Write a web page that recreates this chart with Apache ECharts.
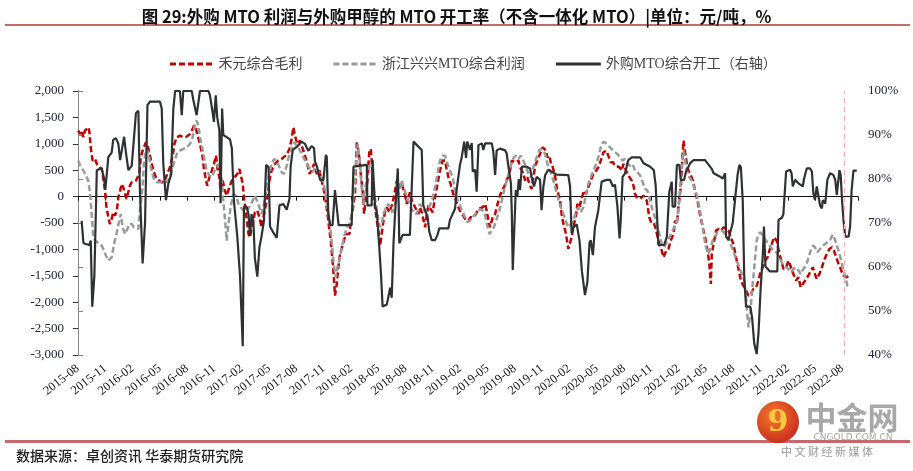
<!DOCTYPE html>
<html><head><meta charset="utf-8">
<script src="https://cdn.jsdelivr.net/npm/echarts@6/dist/echarts.min.js"></script>
<style>html,body{margin:0;padding:0;background:#fff}#c{width:913px;height:471px}</style>
</head><body><div id="c"></div>
<script>
// ---- data ----
const titleText = '图 29:外购 MTO 利润与外购甲醇的 MTO 开工率（不含一体化 MTO）|单位：元/吨，%';
const seriesNames = ['禾元综合毛利', '浙江兴兴MTO综合利润', '外购MTO综合开工（右轴）'];
const xTickLabels = ['2015-08','2015-11','2016-02','2016-05','2016-08','2016-11','2017-02','2017-05','2017-08','2017-11','2018-02','2018-05','2018-08','2018-11','2019-02','2019-05','2019-08','2019-11','2020-02','2020-05','2020-08','2020-11','2021-02','2021-05','2021-08','2021-11','2022-02','2022-05','2022-08'];
const markDate = '2022-08-07';

// 禾元综合毛利 (元/吨)
const heyuan = [
['2015-08-02',1250],['2015-08-08',1187],['2015-08-13',1250],['2015-08-19',1124],['2015-08-24',1250],['2015-08-30',1282],['2015-09-05',1313],['2015-09-08',1250],['2015-09-13',934],['2015-09-19',682],['2015-09-27',713],['2015-10-03',619],['2015-10-11',556],['2015-10-19',524],['2015-10-24',366],['2015-10-30',114],['2015-11-05',-202],['2015-11-11',-391],['2015-11-16',-518],['2015-11-22',-423],['2015-11-27',-297],['2015-12-03',-360],['2015-12-09',-265],['2015-12-14',-13],['2015-12-20',114],['2015-12-25',240],['2015-12-30',177],['2016-01-06',50],['2016-01-11',-44],['2016-01-22',208],['2016-01-28',271],['2016-02-12',303],['2016-02-23',429],['2016-02-28',745],['2016-03-04',871],['2016-03-15',1029],['2016-03-20',966],['2016-03-26',840],['2016-04-04',619],['2016-04-11',461],['2016-04-20',335],['2016-05-07',271],['2016-05-14',271],['2016-05-21',366],['2016-06-04',556],['2016-06-13',776],['2016-06-19',997],['2016-06-26',1124],['2016-07-07',1155],['2016-07-18',1124],['2016-07-29',1136],['2016-08-10',1187],['2016-08-19',1282],['2016-08-23',1345],['2016-08-30',1282],['2016-09-04',1187],['2016-09-13',997],['2016-09-22',745],['2016-09-26',524],['2016-10-03',303],['2016-10-07',208],['2016-10-14',366],['2016-10-22',492],['2016-10-29',619],['2016-11-06',776],['2016-11-10',556],['2016-11-17',366],['2016-11-21',114],['2016-11-28',303],['2016-12-05',114],['2016-12-11',19],['2016-12-20',177],['2016-12-28',303],['2017-01-03',271],['2017-01-16',429],['2017-01-23',524],['2017-01-27',524],['2017-02-04',240],['2017-02-08',-13],['2017-02-15',-328],['2017-02-23',-707],['2017-02-28',-770],['2017-03-03',-581],['2017-03-09',-455],['2017-03-14',-297],['2017-03-22',-265],['2017-03-29',-391],['2017-04-06',-581],['2017-04-14',-328],['2017-04-23',-76],['2017-05-02',303],['2017-05-09',492],['2017-05-20',619],['2017-06-01',682],['2017-06-12',713],['2017-06-29',795],['2017-07-08',903],['2017-07-15',1092],['2017-07-21',1313],['2017-07-26',1155],['2017-08-04',997],['2017-08-13',1061],['2017-08-22',903],['2017-08-29',776],['2017-09-07',619],['2017-09-14',429],['2017-09-21',492],['2017-09-29',619],['2017-10-08',429],['2017-10-17',492],['2017-10-24',303],['2017-11-02',114],['2017-11-09',-139],['2017-11-16',-455],['2017-11-24',-833],['2017-11-30',-1212],['2017-12-05',-1591],['2017-12-08',-1875],['2017-12-14',-1654],['2017-12-19',-1338],['2017-12-25',-1086],['2018-01-03',-928],['2018-01-14',-707],['2018-01-26',-707],['2018-01-30',-455],['2018-02-06',-265],['2018-02-14',50],['2018-02-20',1029],['2018-02-28',745],['2018-03-03',429],['2018-03-09',114],['2018-03-14',-328],['2018-03-20',-13],['2018-03-25',303],['2018-04-01',840],['2018-04-06',903],['2018-04-09',682],['2018-04-14',114],['2018-04-20',-202],['2018-04-26',-455],['2018-05-01',-644],['2018-05-07',-928],['2018-05-12',-707],['2018-05-18',-455],['2018-05-23',-297],['2018-05-29',-202],['2018-06-07',-297],['2018-06-15',-170],['2018-06-21',-44],['2018-06-26',114],['2018-07-02',303],['2018-07-10',177],['2018-07-18',271],['2018-07-24',114],['2018-07-29',19],['2018-08-05',-139],['2018-08-10',-13],['2018-08-15',82],['2018-08-21',-76],['2018-08-27',-139],['2018-09-05',-234],['2018-09-13',-328],['2018-09-18',-202],['2018-09-24',-297],['2018-09-29',-423],['2018-10-05',-581],['2018-10-11',-328],['2018-10-16',-170],['2018-10-21',-139],['2018-10-30',-297],['2018-11-08',-13],['2018-11-16',240],['2018-11-24',492],['2018-12-03',682],['2018-12-11',682],['2018-12-16',524],['2018-12-22',366],['2018-12-29',240],['2019-01-08',50],['2019-01-17',-76],['2019-01-25',-202],['2019-02-02',-297],['2019-02-11',-360],['2019-02-20',-455],['2019-02-28',-455],['2019-03-05',-391],['2019-03-14',-391],['2019-03-23',-328],['2019-03-31',-234],['2019-04-06',-265],['2019-04-15',-202],['2019-04-23',-139],['2019-04-28',-265],['2019-05-04',-455],['2019-05-09',-581],['2019-05-18',-391],['2019-05-26',-328],['2019-06-01',-202],['2019-06-10',-13],['2019-06-18',114],['2019-06-25',177],['2019-07-04',303],['2019-07-10',398],['2019-07-15',492],['2019-07-21',682],['2019-07-26',682],['2019-08-05',650],['2019-08-13',682],['2019-08-18',556],['2019-08-27',461],['2019-09-05',303],['2019-09-12',366],['2019-09-19',240],['2019-09-26',145],['2019-10-02',366],['2019-10-08',587],['2019-10-15',682],['2019-10-26',840],['2019-11-03',934],['2019-11-07',966],['2019-11-14',871],['2019-11-18',745],['2019-11-25',776],['2019-11-29',650],['2019-12-06',556],['2019-12-14',366],['2019-12-21',114],['2019-12-30',-76],['2020-01-05',-328],['2020-01-11',-518],['2020-01-17',-644],['2020-01-22',-802],['2020-01-27',-991],['2020-02-03',-960],['2020-02-08',-770],['2020-02-14',-581],['2020-02-23',-328],['2020-02-27',-139],['2020-03-04',-202],['2020-03-12',-13],['2020-03-19',114],['2020-03-26',50],['2020-04-03',177],['2020-04-11',303],['2020-04-20',429],['2020-04-29',492],['2020-05-06',556],['2020-05-14',682],['2020-05-23',840],['2020-06-02',871],['2020-06-09',776],['2020-06-17',650],['2020-06-24',650],['2020-07-01',587],['2020-07-07',619],['2020-07-16',556],['2020-07-23',492],['2020-07-29',619],['2020-08-04',587],['2020-08-10',461],['2020-08-19',366],['2020-08-26',303],['2020-09-02',208],['2020-09-07',50],['2020-09-13',-13],['2020-09-24',-44],['2020-10-05',19],['2020-10-16',-80],['2020-10-24',-391],['2020-11-02',-518],['2020-11-10',-518],['2020-11-17',-644],['2020-11-24',-833],['2020-12-02',-960],['2020-12-11',-1149],['2020-12-20',-1023],['2020-12-27',-991],['2021-01-05',-833],['2021-01-14',-707],['2021-01-19',-455],['2021-01-25',-518],['2021-01-30',-202],['2021-02-08',177],['2021-02-14',808],['2021-02-17',1061],['2021-02-22',840],['2021-02-28',619],['2021-03-03',492],['2021-03-09',429],['2021-03-18',303],['2021-03-25',114],['2021-04-03',-76],['2021-04-11',-328],['2021-04-20',-581],['2021-04-28',-770],['2021-05-06',-1023],['2021-05-12',-1275],['2021-05-17',-1654],['2021-05-20',-1086],['2021-05-26',-896],['2021-06-04',-644],['2021-06-12',-612],['2021-06-20',-644],['2021-06-29',-581],['2021-07-07',-612],['2021-07-15',-644],['2021-07-23',-770],['2021-08-01',-896],['2021-08-10',-1149],['2021-08-18',-1370],['2021-08-26',-1591],['2021-09-04',-1686],['2021-09-13',-1780],['2021-09-21',-1875],['2021-09-29',-1843],['2021-10-07',-1749],['2021-10-16',-1717],['2021-10-24',-1591],['2021-10-29',-1465],['2021-11-08',-1338],['2021-11-16',-1212],['2021-11-24',-1149],['2021-11-30',-1023],['2021-12-08',-896],['2021-12-15',-770],['2021-12-24',-833],['2022-01-03',-1086],['2022-01-11',-1244],['2022-01-16',-1370],['2022-01-25',-1338],['2022-02-03',-1212],['2022-02-11',-1338],['2022-02-19',-1465],['2022-02-28',-1591],['2022-03-06',-1528],['2022-03-13',-1717],['2022-03-20',-1654],['2022-03-28',-1591],['2022-04-05',-1528],['2022-04-14',-1433],['2022-04-23',-1338],['2022-04-30',-1465],['2022-05-06',-1559],['2022-05-15',-1465],['2022-05-23',-1338],['2022-05-30',-1212],['2022-06-09',-1086],['2022-06-18',-991],['2022-06-26',-960],['2022-07-03',-1023],['2022-07-10',-1149],['2022-07-18',-1275],['2022-07-23',-1338],['2022-07-29',-1433],['2022-08-04',-1496],['2022-08-10',-1465],['2022-08-15',-1528],['2022-08-21',-1496]
];

// 浙江兴兴MTO综合利润 (元/吨)
const xingxing = [
['2015-08-02',682],['2015-08-08',587],['2015-08-19',492],['2015-08-27',398],['2015-09-05',303],['2015-09-11',50],['2015-09-16',-328],['2015-09-21',-707],['2015-09-27',-833],['2015-10-05',-865],['2015-10-11',-896],['2015-10-19',-928],['2015-10-27',-1023],['2015-11-03',-1117],['2015-11-11',-1212],['2015-11-16',-1212],['2015-11-22',-1149],['2015-11-30',-896],['2015-12-09',-675],['2015-12-17',-455],['2015-12-22',-328],['2015-12-28',-581],['2016-01-06',-707],['2016-01-14',-612],['2016-01-20',-518],['2016-01-28',-518],['2016-02-05',-581],['2016-02-20',-612],['2016-02-25',-265],['2016-03-04',177],['2016-03-08',619],['2016-03-15',903],['2016-03-23',840],['2016-03-31',556],['2016-04-09',366],['2016-04-20',271],['2016-05-21',271],['2016-05-29',303],['2016-06-06',429],['2016-06-15',587],['2016-06-21',713],['2016-06-29',840],['2016-07-07',871],['2016-07-18',903],['2016-07-29',934],['2016-08-10',997],['2016-08-19',1124],['2016-08-27',1376],['2016-09-02',1439],['2016-09-08',1345],['2016-09-13',1124],['2016-09-22',871],['2016-09-30',650],['2016-10-05',492],['2016-10-14',398],['2016-10-22',366],['2016-10-29',461],['2016-11-08',556],['2016-11-17',619],['2016-11-25',303],['2016-11-30',-76],['2016-12-06',-455],['2016-12-11',-833],['2016-12-17',-518],['2016-12-24',-202],['2017-01-03',50],['2017-01-12',19],['2017-01-20',-139],['2017-01-27',-202],['2017-02-11',-297],['2017-02-19',-265],['2017-02-28',-170],['2017-03-07',-76],['2017-03-14',19],['2017-03-20',-13],['2017-03-29',-202],['2017-04-06',-328],['2017-04-14',-139],['2017-04-23',177],['2017-05-02',429],['2017-05-09',619],['2017-05-17',713],['2017-05-26',682],['2017-06-05',556],['2017-06-12',461],['2017-06-20',429],['2017-06-29',587],['2017-07-08',808],['2017-07-15',903],['2017-07-23',1029],['2017-08-02',966],['2017-08-13',871],['2017-08-24',745],['2017-09-05',619],['2017-09-16',524],['2017-09-25',461],['2017-10-02',556],['2017-10-10',492],['2017-10-19',429],['2017-10-28',303],['2017-11-05',114],['2017-11-11',-139],['2017-11-20',-455],['2017-11-27',-833],['2017-12-05',-1338],['2017-12-11',-1528],['2017-12-16',-1338],['2017-12-23',-1212],['2017-12-30',-960],['2018-01-08',-770],['2018-01-17',-581],['2018-01-26',-518],['2018-02-03',-328],['2018-02-11',114],['2018-02-17',556],['2018-02-23',1000],['2018-03-01',619],['2018-03-06',177],['2018-03-12',-139],['2018-03-17',114],['2018-03-23',366],['2018-04-01',587],['2018-04-09',492],['2018-04-14',177],['2018-04-23',-139],['2018-05-01',-455],['2018-05-07',-581],['2018-05-12',-518],['2018-05-18',-328],['2018-05-27',-202],['2018-06-04',-139],['2018-06-12',-234],['2018-06-18',-297],['2018-06-26',-139],['2018-07-04',19],['2018-07-12',177],['2018-07-18',303],['2018-07-24',177],['2018-08-02',50],['2018-08-10',-76],['2018-08-18',-202],['2018-08-27',-297],['2018-09-05',-328],['2018-09-13',-265],['2018-09-18',-139],['2018-09-27',-202],['2018-10-05',-297],['2018-10-13',-234],['2018-10-21',-170],['2018-10-30',-13],['2018-11-08',177],['2018-11-16',429],['2018-11-24',682],['2018-12-03',776],['2018-12-11',776],['2018-12-19',619],['2018-12-27',492],['2019-01-06',366],['2019-01-14',114],['2019-01-21',-44],['2019-01-30',-170],['2019-02-09',-297],['2019-02-17',-391],['2019-02-24',-486],['2019-03-03',-455],['2019-03-12',-391],['2019-03-20',-328],['2019-03-27',-297],['2019-04-06',-234],['2019-04-15',-265],['2019-04-23',-360],['2019-04-30',-549],['2019-05-07',-707],['2019-05-15',-644],['2019-05-22',-581],['2019-06-01',-423],['2019-06-10',-265],['2019-06-18',-76],['2019-06-25',114],['2019-07-04',303],['2019-07-13',492],['2019-07-21',650],['2019-07-28',745],['2019-08-05',776],['2019-08-13',713],['2019-08-20',776],['2019-08-29',682],['2019-09-08',556],['2019-09-16',429],['2019-09-23',366],['2019-10-02',556],['2019-10-11',713],['2019-10-19',840],['2019-10-24',903],['2019-11-03',871],['2019-11-11',808],['2019-11-18',619],['2019-11-27',492],['2019-12-08',303],['2019-12-17',114],['2019-12-24',-44],['2020-01-02',-202],['2020-01-11',-328],['2020-01-20',-486],['2020-01-27',-581],['2020-02-05',-518],['2020-02-14',-455],['2020-02-23',-265],['2020-03-01',-202],['2020-03-08',-297],['2020-03-17',-202],['2020-03-26',50],['2020-04-03',240],['2020-04-11',366],['2020-04-20',492],['2020-04-29',619],['2020-05-06',745],['2020-05-14',934],['2020-05-21',1029],['2020-05-28',1029],['2020-06-06',966],['2020-06-15',934],['2020-06-24',871],['2020-07-01',840],['2020-07-09',808],['2020-07-18',745],['2020-07-26',682],['2020-08-04',713],['2020-08-12',619],['2020-08-21',587],['2020-08-29',619],['2020-09-07',492],['2020-09-15',461],['2020-09-24',400],['2020-10-02',280],['2020-10-10',150],['2020-10-18',114],['2020-10-27',-76],['2020-11-05',-265],['2020-11-13',-391],['2020-11-21',-581],['2020-11-30',-770],['2020-12-05',-896],['2020-12-13',-960],['2020-12-22',-865],['2020-12-30',-770],['2021-01-08',-675],['2021-01-16',-581],['2021-01-25',-455],['2021-01-30',-265],['2021-02-05',114],['2021-02-11',556],['2021-02-17',871],['2021-02-22',682],['2021-02-28',492],['2021-03-06',366],['2021-03-14',303],['2021-03-22',177],['2021-03-31',19],['2021-04-09',-202],['2021-04-17',-455],['2021-04-25',-770],['2021-05-01',-960],['2021-05-09',-1086],['2021-05-17',-960],['2021-05-23',-833],['2021-06-01',-770],['2021-06-09',-675],['2021-06-23',-644],['2021-06-30',-675],['2021-07-09',-770],['2021-07-18',-802],['2021-07-26',-960],['2021-08-04',-1086],['2021-08-12',-1212],['2021-08-21',-1338],['2021-08-29',-1465],['2021-09-07',-1591],['2021-09-13',-1907],['2021-09-17',-2222],['2021-09-21',-2475],['2021-09-27',-2222],['2021-10-02',-1843],['2021-10-07',-1528],['2021-10-13',-1149],['2021-10-18',-833],['2021-10-24',-707],['2021-11-01',-675],['2021-11-10',-770],['2021-11-19',-833],['2021-11-27',-896],['2021-12-05',-960],['2021-12-13',-1023],['2021-12-22',-1054],['2021-12-30',-1117],['2022-01-08',-1212],['2022-01-16',-1307],['2022-01-25',-1338],['2022-02-03',-1370],['2022-02-11',-1433],['2022-02-19',-1370],['2022-02-28',-1338],['2022-03-06',-1401],['2022-03-13',-1465],['2022-03-22',-1370],['2022-04-01',-1307],['2022-04-09',-1149],['2022-04-16',-1023],['2022-04-23',-928],['2022-04-30',-960],['2022-05-08',-1054],['2022-05-17',-991],['2022-05-26',-928],['2022-06-04',-896],['2022-06-11',-865],['2022-06-20',-820],['2022-06-29',-720],['2022-07-07',-833],['2022-07-14',-960],['2022-07-21',-1086],['2022-07-29',-1275],['2022-08-06',-1433],['2022-08-13',-1591],['2022-08-17',-1686],['2022-08-22',-1717]
];

// 外购MTO综合开工（右轴, %）
const operating = [
['2015-08-13',70.5],['2015-08-19',65.4],['2015-09-08',65],['2015-09-13',66],['2015-09-18',51],['2015-09-25',58],['2015-10-03',82],['2015-10-19',82.5],['2015-10-27',80],['2015-11-01',77.5],['2015-11-11',85],['2015-11-22',86],['2015-11-27',88.9],['2015-12-06',89.3],['2015-12-14',88],['2015-12-20',84.3],['2015-12-25',84],['2016-01-03',89.6],['2016-01-09',86],['2016-01-17',82],['2016-01-28',83],['2016-02-05',88.9],['2016-02-12',95],['2016-02-20',95.5],['2016-02-25',77.5],['2016-03-04',60.8],['2016-03-12',70],['2016-03-20',96.8],['2016-03-28',97.6],['2016-05-01',97.6],['2016-05-07',96],['2016-05-12',83.6],['2016-05-21',75.2],['2016-05-29',79],['2016-06-08',81],['2016-06-15',95.7],['2016-06-21',100],['2016-07-07',100],['2016-07-13',94.5],['2016-07-18',100],['2016-08-16',100],['2016-08-21',98],['2016-09-02',94.5],['2016-09-13',100],['2016-10-11',100],['2016-10-16',99],['2016-10-25',95],['2016-10-29',93],['2016-11-05',99],['2016-11-10',94],['2016-11-17',91],['2016-11-21',74.5],['2016-11-26',96],['2016-11-30',90],['2016-12-11',89.5],['2016-12-22',89],['2016-12-28',87],['2017-01-05',75],['2017-01-16',67],['2017-01-25',58],['2017-02-04',42],['2017-02-08',73.7],['2017-02-17',73.7],['2017-02-23',72],['2017-02-28',67],['2017-03-03',72],['2017-03-09',70.5],['2017-03-14',62],['2017-03-22',57.8],['2017-03-29',64.5],['2017-04-06',67],['2017-04-14',70.5],['2017-04-21',83.2],['2017-04-29',82.7],['2017-05-04',69.2],['2017-05-15',67.8],['2017-05-26',66.6],['2017-06-05',74],['2017-06-18',74.3],['2017-06-29',73],['2017-07-08',75.5],['2017-07-12',83],['2017-07-19',86.6],['2017-08-04',87.4],['2017-08-18',88.5],['2017-08-29',88],['2017-09-10',86.4],['2017-09-21',87.5],['2017-09-29',87],['2017-10-02',84],['2017-10-08',83],['2017-10-19',79.8],['2017-10-30',79.8],['2017-11-08',85.5],['2017-11-11',85],['2017-11-16',72.2],['2017-11-22',69.5],['2017-11-30',69.5],['2017-12-08',77.5],['2017-12-14',77.5],['2017-12-20',69.5],['2018-02-03',69.5],['2018-02-09',82.8],['2018-03-23',83.2],['2018-03-25',74],['2018-04-09',74],['2018-04-12',84.3],['2018-04-17',84.3],['2018-04-20',74],['2018-04-26',72.5],['2018-05-04',64.6],['2018-05-10',58],['2018-05-15',51],['2018-05-29',51.5],['2018-06-10',55.3],['2018-06-15',53],['2018-06-21',65.5],['2018-06-26',72],['2018-07-05',82.4],['2018-07-08',74],['2018-07-10',65.4],['2018-07-15',65.4],['2018-07-21',67.3],['2018-08-15',67.3],['2018-08-21',78],['2018-08-27',88.5],['2018-09-08',87.7],['2018-09-24',86.6],['2018-09-29',74],['2018-10-05',72.9],['2018-10-13',71.5],['2018-10-19',68],['2018-10-27',66.1],['2018-11-08',66.1],['2018-11-16',67.3],['2018-11-22',68.8],['2018-12-22',68.8],['2018-12-27',70.7],['2019-01-14',73.3],['2019-01-19',77.5],['2019-01-30',83.2],['2019-02-06',85],['2019-02-14',88.5],['2019-02-20',84.8],['2019-02-24',88.5],['2019-03-03',86.6],['2019-03-09',88.2],['2019-03-12',81.7],['2019-03-20',82.1],['2019-03-25',77.1],['2019-04-01',87.7],['2019-04-12',88.1],['2019-04-17',86.6],['2019-04-23',88.1],['2019-05-15',88.1],['2019-05-20',86.2],['2019-05-26',80.9],['2019-06-01',86.5],['2019-06-12',86.9],['2019-06-29',86.5],['2019-07-04',85.8],['2019-07-10',82.7],['2019-07-18',79],['2019-07-21',72],['2019-07-24',59.3],['2019-07-29',59],['2019-08-04',77.5],['2019-08-09',76],['2019-08-14',80],['2019-08-18',77.5],['2019-08-24',82.8],['2019-09-10',82.8],['2019-09-21',82.4],['2019-09-26',80.5],['2019-10-04',78.3],['2019-10-13',80.5],['2019-10-24',79.8],['2019-10-29',72.9],['2019-11-05',78.3],['2019-11-11',80.9],['2019-11-21',82.1],['2019-12-19',81],['2020-01-27',80.9],['2020-02-03',78.3],['2020-02-08',67.6],['2020-02-14',69],['2020-02-25',69.7],['2020-03-04',66],['2020-03-12',59],['2020-03-22',53.6],['2020-03-30',56.6],['2020-04-07',65.5],['2020-04-11',66.1],['2020-04-18',62.7],['2020-04-22',62.7],['2020-04-25',69],['2020-05-06',72.9],['2020-05-17',79.4],['2020-06-04',79.8],['2020-06-15',79.8],['2020-06-24',78.3],['2020-07-01',78.7],['2020-07-09',73.7],['2020-07-16',66.5],['2020-07-20',70.7],['2020-07-26',80.5],['2020-08-04',81.3],['2020-08-15',84.3],['2020-08-26',84.9],['2020-09-24',84.9],['2020-10-05',83.6],['2020-10-27',82.8],['2020-11-02',82.4],['2020-11-09',82],['2020-11-15',78.6],['2020-11-24',65],['2020-12-13',65],['2020-12-22',66.9],['2020-12-30',77.1],['2021-01-08',79.4],['2021-01-11',73.7],['2021-01-19',73.7],['2021-01-25',83.2],['2021-02-03',83.2],['2021-02-08',79.8],['2021-02-19',79.8],['2021-02-25',81.7],['2021-03-09',83.6],['2021-03-20',84.3],['2021-04-28',84.3],['2021-05-03',83.9],['2021-05-20',82.3],['2021-05-26',81.3],['2021-06-18',80.5],['2021-06-26',80.1],['2021-07-04',81.3],['2021-07-07',66.9],['2021-07-15',66.1],['2021-07-20',67.6],['2021-07-29',70],['2021-08-07',75.5],['2021-08-15',80.9],['2021-08-21',83.2],['2021-08-26',82.7],['2021-09-02',75.2],['2021-09-07',57.8],['2021-09-13',51],['2021-09-27',51],['2021-10-03',48.5],['2021-10-10',42.6],['2021-10-18',40.2],['2021-10-24',45],['2021-11-01',55],['2021-11-08',62.4],['2021-11-12',69.2],['2021-11-17',60.1],['2021-12-02',59],['2021-12-26',59],['2021-12-30',70.7],['2022-01-11',71.2],['2022-01-16',72],['2022-01-25',81.7],['2022-02-08',82.1],['2022-02-13',81.3],['2022-02-17',78.3],['2022-02-25',79.8],['2022-03-06',79],['2022-03-20',78.3],['2022-03-24',80],['2022-04-03',82.4],['2022-04-14',82.4],['2022-04-20',81.7],['2022-04-25',76.7],['2022-04-30',75.2],['2022-05-06',78.3],['2022-05-12',77.9],['2022-05-17',74],['2022-05-23',73.3],['2022-05-26',75.2],['2022-06-04',74.4],['2022-06-11',79.8],['2022-06-20',81.3],['2022-07-01',80.9],['2022-07-07',79.8],['2022-07-12',76.4],['2022-07-18',76.8],['2022-07-21',82],['2022-07-25',80.9],['2022-07-29',75.6],['2022-08-04',70.7],['2022-08-10',66.9],['2022-08-21',66.9],['2022-08-26',69.2],['2022-09-01',77.5],['2022-09-07',81.9],['2022-09-18',81.9]
];

// ---- helpers ----
function toM(s) { const p = s.split('-').map(Number); return (p[0] - 2015) * 12 + (p[1] - 8) + (p[2] - 1) / 30; }
const conv = arr => arr.map(d => [toM(d[0]), d[1]]);
const xMax = 85.7;

const chart = echarts.init(document.getElementById('c'), null, { renderer: 'canvas' });
const serif = "'Liberation Serif', 'Times New Roman', 'Noto Sans CJK SC', serif";
const cjk = "'Noto Sans CJK SC', sans-serif";
const dashIcon = 'path://M0,0h6v3h-6z M9,0h6v3h-6z M18,0h6v3h-6z M27,0h6v3h-6z M36,0h6v3h-6z';

chart.setOption({
  animation: false,
  backgroundColor: '#fff',
  title: {
    text: titleText, left: 'center', top: 3,
    textStyle: { fontFamily: cjk, fontSize: 16.5, fontWeight: 'bold', color: '#111' }
  },
  legend: {
    left: 165, top: 52, itemGap: 31, itemWidth: 45, itemHeight: 3,
    data: [
      { name: seriesNames[0], icon: dashIcon },
      { name: seriesNames[1], icon: dashIcon },
      { name: seriesNames[2], icon: 'rect' }
    ],
    textStyle: { fontFamily: serif, fontSize: 14, color: '#444' }
  },
  grid: { left: 78, right: 55, top: 91, bottom: 116, containLabel: false },
  xAxis: [
    {
      type: 'value', min: 0, max: xMax, interval: 3, position: 'bottom',
      axisLine: { show: false, onZero: false }, axisTick: { show: false }, splitLine: { show: false },
      axisLabel: {
        rotate: 38, margin: 12, fontFamily: serif, fontSize: 12.5, color: '#222', showMaxLabel: false,
        formatter: v => { const i = Math.round(v / 3); return (Math.abs(v - i * 3) < 1e-6 && i < xTickLabels.length) ? xTickLabels[i] : ''; }
      }
    },
    {
      type: 'value', min: 0, max: xMax, interval: 3, position: 'top',
      axisLine: { show: true, onZero: true, onZeroAxisIndex: 0, lineStyle: { color: '#111', width: 1 } },
      axisTick: { show: true, inside: true, length: 4, lineStyle: { color: '#111' } },
      axisLabel: { show: false }, splitLine: { show: false }
    }
  ],
  yAxis: [
    {
      type: 'value', min: -3000, max: 2000, interval: 500, position: 'left',
      axisLine: { show: true, lineStyle: { color: '#333', width: 1 } },
      axisTick: { show: true, length: 5, lineStyle: { color: '#333' } },
      splitLine: { show: false },
      axisLabel: { margin: 14, fontFamily: serif, fontSize: 13, color: '#22223a', formatter: v => v.toLocaleString('en-US') }
    },
    {
      type: 'value', min: 40, max: 100, interval: 10, position: 'right',
      axisLine: { show: true, lineStyle: { color: '#888', width: 1 } },
      axisTick: { show: true, length: 5, lineStyle: { color: '#888' } },
      splitLine: { show: false },
      axisLabel: { margin: 10, fontFamily: serif, fontSize: 13, color: '#22223a', formatter: v => v + '%' }
    }
  ],
  series: [
    {
      name: seriesNames[0], type: 'line', xAxisIndex: 0, yAxisIndex: 0, data: conv(heyuan),
      symbol: 'none', showSymbol: false, lineStyle: { color: '#c00000', width: 2.5, type: [6, 3] }, itemStyle: { color: '#c00000' }
    },
    {
      name: seriesNames[1], type: 'line', xAxisIndex: 0, yAxisIndex: 0, data: conv(xingxing),
      symbol: 'none', showSymbol: false, lineStyle: { color: '#9a9a9a', width: 2.5, type: [6, 3] }, itemStyle: { color: '#9a9a9a' }
    },
    {
      name: seriesNames[2], type: 'line', xAxisIndex: 0, yAxisIndex: 1, data: conv(operating),
      symbol: 'none', showSymbol: false, lineStyle: { color: '#2f3133', width: 2.2 }, itemStyle: { color: '#2f3133' },
      markLine: {
        silent: true, symbol: ['none', 'none'], label: { show: false },
        lineStyle: { color: '#f4b4a4', type: [5, 4], width: 1.3 },
        data: [{ xAxis: toM(markDate) }]
      }
    }
  ],
  graphic: [
    { type: 'rect', left: 5, top: 24, shape: { width: 905, height: 2 }, style: { fill: '#c46a6a' }, silent: true },
    { type: 'rect', left: 5, top: 440, shape: { width: 905, height: 3 }, style: { fill: '#c46a6a' }, silent: true, z: 10 },
    { type: 'text', left: 16, top: 449, style: { text: '数据来源：卓创资讯 华泰期货研究院', font: "500 14px 'Noto Sans CJK SC'", fill: '#222' } },
    {
      type: 'circle', shape: { cx: 778, cy: 422, r: 21 }, z: 20,
      style: { fill: new echarts.graphic.RadialGradient(0.4, 0.35, 0.8, [{ offset: 0, color: '#f47a2a' }, { offset: 1, color: '#c0201a' }]) }
    },
    { type: 'text', x: 778, y: 423, z: 21, style: { text: '9', font: "bold 30px 'DejaVu Serif'", fill: '#f8c840', align: 'center', verticalAlign: 'middle' } },
    { type: 'text', x: 852, y: 417, z: 21, style: { text: '中金网', font: "bold 31px 'Noto Sans CJK SC'", fill: '#a8a8a8', align: 'center', verticalAlign: 'middle' } },
    { type: 'text', x: 853, y: 438, z: 21, style: { text: 'CNGOLD.COM.CN', font: "9px 'DejaVu Sans'", fill: '#a8a8a8', align: 'center', verticalAlign: 'middle' } },
    { type: 'text', x: 827, y: 452, z: 21, style: { text: '中 文 财 经 新 媒 体', font: "11px 'Noto Sans CJK SC'", fill: '#999', align: 'center', verticalAlign: 'middle' } }
  ]
});
</script>
</body></html>
